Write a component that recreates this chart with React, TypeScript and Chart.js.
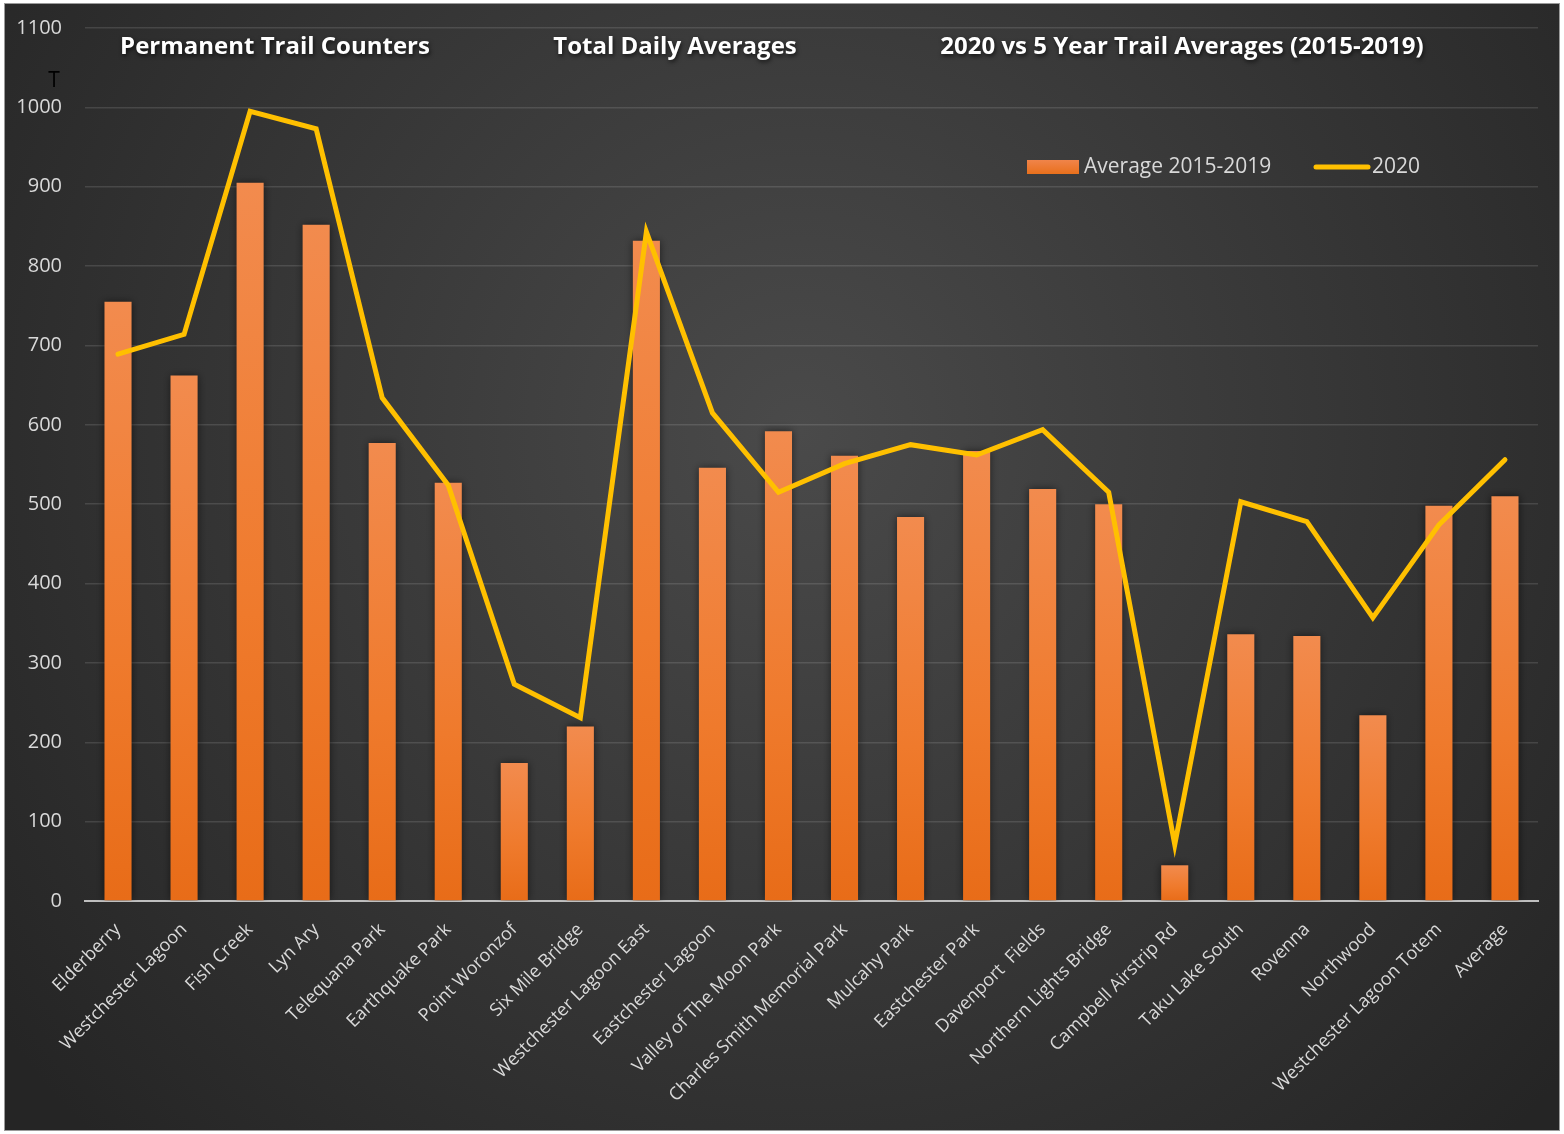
import React, { useEffect, useRef } from "react";
import { Chart, registerables } from "chart.js";

Chart.register(...registerables);

const categories = [
  "Elderberry",
  "Westchester Lagoon",
  "Fish Creek",
  "Lyn Ary",
  "Telequana Park",
  "Earthquake Park",
  "Point Woronzof",
  "Six Mile Bridge",
  "Westchester Lagoon East",
  "Eastchester Lagoon",
  "Valley of The Moon Park",
  "Charles Smith Memorial Park",
  "Mulcahy Park",
  "Eastchester Park",
  "Davenport  Fields",
  "Northern Lights Bridge",
  "Campbell Airstrip Rd",
  "Taku Lake South",
  "Rovenna",
  "Northwood",
  "Westchester Lagoon Totem",
  "Average",
];

const average2015to2019 = [
  755, 662, 905, 852, 577, 527, 174, 220, 832, 546, 592, 561, 484, 567, 519, 500, 45, 336, 334, 234, 498, 510,
];

const values2020 = [
  689, 714, 995, 973, 634, 524, 273, 231, 843, 615, 515, 551, 575, 562, 594, 515, 71, 503, 478, 357, 474, 556,
];

const yTicks = [0, 100, 200, 300, 400, 500, 600, 700, 800, 900, 1000, 1100];

const titleTexts = [
  "Permanent Trail Counters",
  "Total Daily Averages",
  "2020 vs 5 Year Trail Averages (2015-2019)",
];
const legendLabels = ["Average 2015-2019", "2020"];

const FONT = "'Open Sans', 'DejaVu Sans', sans-serif";

export default function App() {
  const ref = useRef<HTMLCanvasElement | null>(null);

  useEffect(() => {
    document.body.style.margin = "0";
    const canvas = ref.current;
    if (!canvas) return;

    const bgPlugin = {
      id: "bgPlugin",
      beforeDraw(chart: any) {
        const c = chart.ctx;
        const W = chart.width;
        const H = chart.height;
        c.save();
        c.fillStyle = "#ffffff";
        c.fillRect(0, 0, W, H);
        const g = c.createRadialGradient(800, 430, 0, 800, 430, 1000);
        g.addColorStop(0, "#4a4a4a");
        g.addColorStop(1, "#252525");
        c.fillStyle = g;
        c.fillRect(4, 3, W - 8, H - 6);
        c.strokeStyle = "#9a9a9a";
        c.lineWidth = 1;
        c.strokeRect(4.5, 3.5, W - 9, H - 7);
        c.restore();
      },
      beforeDatasetDraw(chart: any, args: any) {
        if (args.index === 0) {
          const c = chart.ctx;
          c.save();
          c.shadowColor = "rgba(0,0,0,0.55)";
          c.shadowBlur = 8;
          c.shadowOffsetX = 0;
          c.shadowOffsetY = 0;
        }
      },
      afterDatasetDraw(chart: any, args: any) {
        if (args.index === 0) {
          chart.ctx.restore();
        }
      },
      afterDraw(chart: any) {
        const c = chart.ctx;
        c.save();
        // titles
        c.font = `bold 24px ${FONT}`;
        c.textAlign = "center";
        c.textBaseline = "middle";
        c.shadowColor = "rgba(0,0,0,0.7)";
        c.shadowBlur = 4;
        c.shadowOffsetX = 1;
        c.shadowOffsetY = 2;
        c.fillStyle = "#ffffff";
        const xs = [275, 675, 1182];
        titleTexts.forEach((t, i) => c.fillText(t, xs[i], 47));
        c.shadowColor = "transparent";
        c.shadowBlur = 0;
        c.shadowOffsetX = 0;
        c.shadowOffsetY = 0;
        // stray T
        c.font = `21px ${FONT}`;
        c.fillStyle = "#000000";
        c.fillText("T", 54, 81);
        // legend
        c.textAlign = "left";
        c.font = `21px ${FONT}`;
        const lg = c.createLinearGradient(0, 160, 0, 174);
        lg.addColorStop(0, "#f0844a");
        lg.addColorStop(1, "#e8701c");
        c.fillStyle = lg;
        c.fillRect(1027, 160, 52, 14);
        c.fillStyle = "#d9d9d9";
        c.fillText(legendLabels[0], 1084, 167);
        c.strokeStyle = "#ffc000";
        c.lineWidth = 5;
        c.lineCap = "round";
        c.beginPath();
        c.moveTo(1316, 167);
        c.lineTo(1368, 167);
        c.stroke();
        c.fillText(legendLabels[1], 1372, 167);
        c.restore();
      },
    };

    const chart = new Chart(canvas, {
      type: "bar",
      data: {
        labels: categories,
        datasets: [
          {
            type: "bar",
            label: legendLabels[0],
            data: average2015to2019,
            order: 1,
            backgroundColor: (ctx: any) => {
              const ch = ctx.chart;
              const ys = ch.scales?.y;
              if (!ys || !ctx.parsed) return "#ec7a30";
              const top = ys.getPixelForValue(ctx.parsed.y);
              const base = ys.getPixelForValue(0);
              if (!isFinite(top) || !isFinite(base) || top === base) return "#ec7a30";
              const g = ch.ctx.createLinearGradient(0, top, 0, base);
              g.addColorStop(0, "#f28b4e");
              g.addColorStop(0.6, "#ef7a2c");
              g.addColorStop(1, "#e86c18");
              return g;
            },
            borderWidth: 0,
            categoryPercentage: 1,
            barPercentage: 0.41,
          },
          {
            type: "line",
            label: legendLabels[1],
            data: values2020,
            order: 0,
            borderColor: "#ffc000",
            borderWidth: 5,
            pointRadius: 0,
            tension: 0,
            fill: false,
            borderCapStyle: "round",
            borderJoinStyle: "miter",
          } as any,
        ],
      },
      options: {
        responsive: false,
        animation: false,
        events: [],
        layout: { padding: { left: 0, top: 28, right: 26, bottom: 0 } },
        plugins: {
          legend: { display: false },
          title: { display: false },
          tooltip: { enabled: false },
        },
        scales: {
          x: {
            grid: { display: false },
            border: { display: true, color: "#bfbfbf", width: 2 },
            ticks: {
              color: "#d9d9d9",
              font: { family: FONT, size: 18 },
              maxRotation: 45,
              minRotation: 45,
              autoSkip: false,
              padding: 10,
            },
            afterFit(scale: any) {
              scale.height = 1134 - 901;
            },
          },
          y: {
            min: 0,
            max: 1100,
            afterBuildTicks(scale: any) {
              scale.ticks = yTicks.map((v) => ({ value: v }));
            },
            grid: {
              color: "rgba(255,255,255,0.12)",
              lineWidth: 1.5,
              drawTicks: true,
              tickLength: 23,
              tickColor: "rgba(0,0,0,0)",
            },
            border: { display: false },
            ticks: {
              color: "#d9d9d9",
              font: { family: FONT, size: 20 },
              padding: 0,
              callback: (v: any) => String(v),
            },
            afterFit(scale: any) {
              scale.width = 85;
            },
          },
        },
      },
      plugins: [bgPlugin],
    });

    return () => chart.destroy();
  }, []);

  return (
    <div style={{ width: 1564, height: 1134 }}>
      <canvas ref={ref} width={1564} height={1134} />
    </div>
  );
}
